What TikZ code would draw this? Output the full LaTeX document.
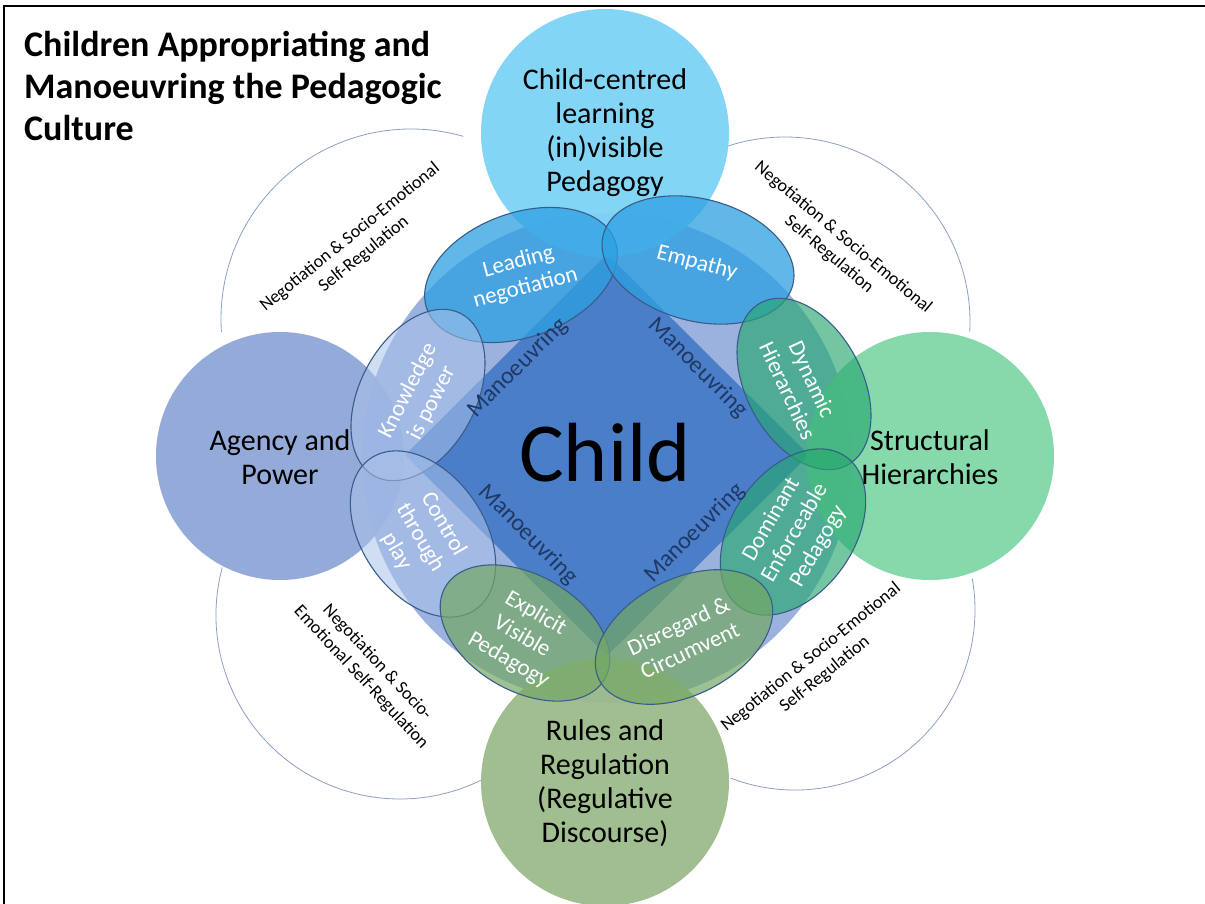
\documentclass[tikz,border=0pt]{standalone}
\usepackage{fontspec}
\setmainfont{Carlito}
\usetikzlibrary{shapes.geometric}
\definecolor{bigc}{RGB}{155,177,222}
\definecolor{diamc}{RGB}{74,126,200}
\definecolor{topc}{RGB}{125,211,246}
\definecolor{rightc}{RGB}{128,215,166}
\definecolor{botc}{RGB}{157,187,140}
\definecolor{leftc}{RGB}{143,166,216}
\definecolor{ellline}{RGB}{58,92,138}
\definecolor{lnc}{RGB}{45,160,225}
\definecolor{kpc}{RGB}{170,195,235}
\definecolor{dhc}{RGB}{40,168,112}
\definecolor{evc}{RGB}{115,168,100}
\definecolor{navy}{RGB}{31,56,100}
\definecolor{arcc}{RGB}{140,160,196}
\begin{document}
\begin{tikzpicture}[x=1pt,y=-1pt,
  outer/.style={circle,inner sep=0pt,minimum size=248pt,fill opacity=0.95},
  ell/.style={ellipse,draw=ellline,line width=1.1pt,inner sep=0pt},
  ctext/.style={align=center,text=black,font=\fontsize{30}{34}\selectfont},
  etext/.style={align=center,text=white,font=\fontsize{23}{27}\selectfont},
  mtext/.style={text=navy,font=\fontsize{24}{28}\selectfont},
  atext/.style={align=center,text=black,font=\fontsize{18}{22}\selectfont},
  arcline/.style={draw=arcc,line width=0.8pt}]
\useasboundingbox (0,0) rectangle (1205,904);
\fill[white] (0,0) rectangle (1205,904);
\draw[line width=2pt] (4,904) -- (4,6) -- (1205,6);

% thin outer arcs
\coordinate (tlc) at (411,319);
\coordinate (trc) at (785,322);
\coordinate (blc) at (400,615);
\coordinate (brc) at (795,610);
\draw[arcline] (tlc) ++(-74:190) arc[start angle=-74,end angle=-184,radius=190];
\draw[arcline] (trc) ++(3:185) arc[start angle=3,end angle=-108,radius=185];
\draw[arcline] (blc) ++(-165:184) arc[start angle=-165,end angle=-296,radius=184];
\draw[arcline] (brc) ++(111:180) arc[start angle=111,end angle=-10,radius=180];

% central circle and diamond
\node[circle,fill=bigc,inner sep=0pt,minimum size=490pt] (big) at (607,458) {};
\node[diamond,fill=diamc,inner sep=0pt,minimum width=404pt,minimum height=402pt] (dia) at (607,455) {};

% outer circles
\node[outer,fill=topc] (top) at (605,133) {};
\node[outer,fill=rightc] (right) at (930,456) {};
\node[outer,fill=botc] (bot) at (605,782) {};
\node[outer,fill=leftc] (left) at (280,456) {};

% ellipses
\node[ell,fill=lnc,fill opacity=0.75,minimum width=200pt,minimum height=124pt,rotate=20] (ln) at (521,275) {};
\node[ell,fill=lnc,fill opacity=0.75,minimum width=196pt,minimum height=122pt,rotate=-15] (em) at (698,260) {};
\node[ell,fill=kpc,fill opacity=0.55,minimum width=184pt,minimum height=116pt,rotate=62] (kp) at (418,395) {};
\node[ell,fill=kpc,fill opacity=0.55,minimum width=184pt,minimum height=122pt,rotate=-55] (ctp) at (423,534) {};
\node[ell,fill=dhc,fill opacity=0.65,minimum width=184pt,minimum height=116pt,rotate=-62] (dh) at (804,384) {};
\node[ell,fill=dhc,fill opacity=0.65,minimum width=184pt,minimum height=122pt,rotate=55] (dep) at (793,532) {};
\node[ell,fill=evc,fill opacity=0.7,minimum width=184pt,minimum height=116pt,rotate=-30] (evp) at (525,633) {};
\node[ell,fill=evc,fill opacity=0.7,minimum width=190pt,minimum height=116pt,rotate=27] (dc) at (684,637) {};

% texts
\node[text=black,font=\fontsize{84}{90}\selectfont] (child) at (605,453) {Child};
\node[mtext,rotate=45] (m1) at (518,368) {Manoeuvring};
\node[mtext,rotate=-45] (m2) at (698,368) {Manoeuvring};
\node[mtext,rotate=-45] (m3) at (528,535) {Manoeuvring};
\node[mtext,rotate=45] (m4) at (695,533) {Manoeuvring};

\node[ctext] (ttop) at (605,133) {Child-centred\\learning\\(in)visible\\Pedagogy};
\node[ctext] (tright) at (930,457) {Structural\\Hierarchies};
\node[ctext] (tbot) at (605,783) {Rules and\\Regulation\\(Regulative\\Discourse)};
\node[ctext] (tleft) at (280,457) {Agency and\\Power};

\node[etext,rotate=15] (tln) at (522,275) {Leading\\negotiation};
\node[etext,rotate=-15] (tem) at (697,263) {Empathy};
\node[etext,rotate=63] (tkp) at (420,397) {Knowledge\\is power};
\node[etext,rotate=-60] (tctp) at (420,538) {Control\\through\\play};
\node[etext,rotate=-65] (tdh) at (800,385) {Dynamic\\Hierarchies};
\node[etext,rotate=60] (tdep) at (795,533) {Dominant\\Enforceable\\Pedagogy};
\node[etext,rotate=-30] (tevp) at (522,637) {Explicit\\Visible\\Pedagogy};
\node[etext,rotate=25] (tdc) at (684,638) {Disregard \&\\Circumvent};

\node[atext,rotate=39] (a1) at (357,246) {Negotiation \& Socio-Emotional\\Self-Regulation};
\node[atext,rotate=-40] (a2) at (836,246) {Negotiation \& Socio-Emotional\\Self-Regulation};
\node[atext,rotate=-47] (a3) at (369,670) {Negotiation \& Socio-\\Emotional Self-Regulation};
\node[atext,rotate=39] (a4) at (818,666) {Negotiation \& Socio-Emotional\\Self-Regulation};

\node[anchor=north west,inner sep=0pt,align=left,font=\bfseries\fontsize{36}{42}\selectfont] (title) at (24,31) {Children Appropriating and\\Manoeuvring the Pedagogic\\Culture};
\end{tikzpicture}
\end{document}
